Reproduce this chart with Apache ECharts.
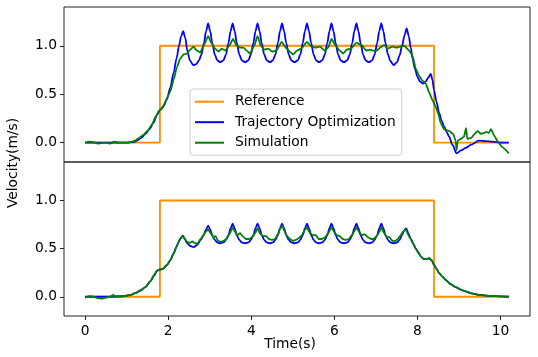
<!DOCTYPE html>
<html>
<head>
<meta charset="utf-8">
<script src="https://cdn.jsdelivr.net/npm/echarts@6/dist/echarts.min.js"></script>
<style>
  html, body { margin: 0; padding: 0; background: #fff; }
  #main { width: 538px; height: 357px; }
</style>
</head>
<body>
<div id="main"></div>
<script>
// 数据 (time s, velocity m/s)
var xTicks = [0, 2, 4, 6, 8, 10];
var yTicks = [0, 0.5, 1.0];
var names = ['Reference', 'Trajectory Optimization', 'Simulation'];

var refLine = [[0, 0], [1.8, 0], [1.8, 1], [8.4, 1], [8.4, 0], [10.2, 0]];

var trajTop = [[0,0],[0.5,0],[1.0,0],[1.15,0.005],[1.25,0.02],[1.35,0.05],[1.45,0.09],[1.55,0.14],[1.65,0.21],[1.73,0.29],[1.81,0.34],[1.89,0.38],[1.97,0.45],[2.05,0.57],[2.13,0.72],[2.2,0.87],[2.26,1.0],[2.31,1.1],[2.36,1.15],[2.41,1.08],[2.46,0.95],[2.52,0.85],[2.6,0.80],[2.68,0.81],[2.74,0.85],[2.8,0.91],[2.86,1.03],[2.91,1.15],[2.96,1.23],[3.01,1.15],[3.06,1.03],[3.12,0.91],[3.18,0.85],[3.25,0.83],[3.33,0.85],[3.39,0.91],[3.45,1.03],[3.5,1.15],[3.55,1.23],[3.6,1.15],[3.65,1.03],[3.71,0.91],[3.77,0.85],[3.85,0.83],[3.93,0.85],[3.99,0.91],[4.05,1.03],[4.1,1.15],[4.15,1.23],[4.2,1.15],[4.25,1.03],[4.31,0.91],[4.37,0.85],[4.45,0.83],[4.52,0.85],[4.58,0.91],[4.64,1.03],[4.69,1.15],[4.74,1.23],[4.79,1.15],[4.84,1.03],[4.9,0.91],[4.96,0.85],[5.04,0.83],[5.12,0.85],[5.18,0.91],[5.24,1.03],[5.29,1.15],[5.34,1.23],[5.39,1.15],[5.44,1.03],[5.5,0.91],[5.56,0.85],[5.63,0.83],[5.71,0.85],[5.77,0.91],[5.83,1.03],[5.88,1.15],[5.93,1.23],[5.98,1.15],[6.03,1.03],[6.09,0.91],[6.15,0.85],[6.23,0.83],[6.31,0.85],[6.37,0.91],[6.43,1.03],[6.48,1.15],[6.53,1.23],[6.58,1.15],[6.63,1.03],[6.69,0.91],[6.75,0.85],[6.83,0.83],[6.91,0.85],[6.97,0.91],[7.03,1.03],[7.08,1.15],[7.13,1.23],[7.18,1.15],[7.23,1.03],[7.29,0.91],[7.35,0.84],[7.43,0.80],[7.51,0.83],[7.57,0.9],[7.63,1.0],[7.69,1.11],[7.74,1.18],[7.79,1.1],[7.84,0.98],[7.88,0.87],[7.94,0.76],[8.0,0.68],[8.06,0.63],[8.14,0.61],[8.2,0.63],[8.26,0.67],[8.32,0.71],[8.36,0.65],[8.4,0.54],[8.46,0.42],[8.52,0.31],[8.58,0.23],[8.64,0.17],[8.7,0.11],[8.76,0.065],[8.84,-0.02],[8.94,-0.11],[9.05,-0.08],[9.16,-0.055],[9.3,-0.02],[9.48,0.02],[9.65,0.015],[9.8,0.01],[10.0,0.0],[10.2,0.0]];

var simTop = [[0,0],[0.1,0.01],[0.2,0.005],[0.3,-0.01],[0.4,-0.005],[0.5,0],[0.6,-0.01],[0.7,0.01],[0.8,0],[0.9,0],[1.0,0],[1.1,0.005],[1.2,0.02],[1.3,0.05],[1.4,0.08],[1.5,0.12],[1.6,0.18],[1.7,0.27],[1.78,0.33],[1.85,0.35],[1.93,0.42],[1.99,0.48],[2.05,0.53],[2.13,0.65],[2.21,0.78],[2.29,0.87],[2.37,0.91],[2.45,0.92],[2.53,0.96],[2.61,0.99],[2.69,0.95],[2.77,0.93],[2.85,1.0],[2.96,1.10],[3.05,1.02],[3.13,0.97],[3.21,0.94],[3.29,0.97],[3.37,0.95],[3.47,1.0],[3.56,1.07],[3.65,1.0],[3.73,0.98],[3.81,0.98],[3.89,0.95],[3.97,0.92],[4.07,1.0],[4.15,1.10],[4.23,1.0],[4.31,0.96],[4.41,0.97],[4.5,0.94],[4.6,0.95],[4.73,1.04],[4.85,0.97],[4.95,0.93],[5.01,0.91],[5.1,0.95],[5.2,0.97],[5.34,1.04],[5.45,0.99],[5.55,0.98],[5.65,0.99],[5.77,0.95],[5.85,0.98],[5.93,1.07],[6.05,0.99],[6.13,0.95],[6.21,0.92],[6.3,0.96],[6.4,0.97],[6.53,1.03],[6.65,1.01],[6.77,0.95],[6.85,0.96],[6.93,0.95],[7.02,0.95],[7.1,0.98],[7.2,1.01],[7.28,0.97],[7.4,0.99],[7.5,0.98],[7.58,0.99],[7.68,1.0],[7.8,0.95],[7.88,0.9],[7.96,0.76],[8.04,0.69],[8.12,0.64],[8.2,0.61],[8.28,0.52],[8.36,0.44],[8.44,0.37],[8.5,0.3],[8.56,0.2],[8.64,0.14],[8.76,0.12],[8.86,0.09],[8.92,0.02],[8.94,-0.08],[8.97,0.02],[9.05,0.04],[9.12,0.06],[9.17,0.15],[9.2,0.04],[9.3,0.05],[9.38,0.09],[9.45,0.12],[9.52,0.09],[9.6,0.1],[9.66,0.11],[9.72,0.1],[9.77,0.14],[9.85,0.07],[9.95,0.0],[10.05,-0.05],[10.2,-0.11]];

var trajBottom = [[0,0],[0.5,0],[0.9,0.005],[1.1,0.02],[1.22,0.04],[1.33,0.065],[1.45,0.1],[1.57,0.16],[1.66,0.22],[1.73,0.27],[1.8,0.285],[1.87,0.29],[1.97,0.33],[2.05,0.38],[2.13,0.45],[2.2,0.52],[2.25,0.57],[2.3,0.61],[2.35,0.635],[2.4,0.6],[2.45,0.56],[2.52,0.53],[2.61,0.515],[2.7,0.54],[2.78,0.59],[2.85,0.64],[2.91,0.7],[2.96,0.74],[3.01,0.7],[3.06,0.64],[3.12,0.59],[3.18,0.565],[3.25,0.556],[3.33,0.565],[3.39,0.59],[3.45,0.64],[3.5,0.71],[3.55,0.76],[3.6,0.71],[3.65,0.64],[3.71,0.59],[3.77,0.565],[3.85,0.556],[3.93,0.565],[3.99,0.59],[4.05,0.64],[4.1,0.71],[4.15,0.76],[4.2,0.71],[4.25,0.64],[4.31,0.59],[4.37,0.565],[4.45,0.556],[4.52,0.565],[4.58,0.59],[4.64,0.64],[4.69,0.71],[4.74,0.76],[4.79,0.71],[4.84,0.64],[4.9,0.59],[4.96,0.565],[5.04,0.556],[5.12,0.565],[5.18,0.59],[5.24,0.64],[5.29,0.71],[5.34,0.76],[5.39,0.71],[5.44,0.64],[5.5,0.59],[5.56,0.565],[5.63,0.556],[5.71,0.565],[5.77,0.59],[5.83,0.64],[5.88,0.71],[5.93,0.76],[5.98,0.71],[6.03,0.64],[6.09,0.59],[6.15,0.565],[6.23,0.556],[6.31,0.565],[6.37,0.59],[6.43,0.64],[6.48,0.71],[6.53,0.76],[6.58,0.71],[6.63,0.64],[6.69,0.59],[6.75,0.565],[6.83,0.556],[6.91,0.565],[6.97,0.59],[7.03,0.64],[7.08,0.71],[7.13,0.76],[7.18,0.71],[7.23,0.64],[7.29,0.59],[7.35,0.565],[7.43,0.556],[7.51,0.565],[7.57,0.59],[7.63,0.64],[7.68,0.69],[7.73,0.71],[7.78,0.66],[7.84,0.6],[7.9,0.55],[7.96,0.5],[8.02,0.46],[8.08,0.42],[8.14,0.395],[8.2,0.39],[8.28,0.40],[8.34,0.38],[8.4,0.33],[8.46,0.29],[8.52,0.245],[8.6,0.21],[8.68,0.176],[8.8,0.13],[8.92,0.10],[9.04,0.075],[9.16,0.055],[9.3,0.035],[9.48,0.02],[9.65,0.012],[9.8,0.008],[10.0,0.003],[10.2,0]];

var simBottom = [[0,-0.01],[0.1,0.005],[0.2,0],[0.3,-0.015],[0.4,-0.02],[0.5,-0.01],[0.6,0],[0.68,0.02],[0.72,0.0],[0.9,0.005],[1.1,0.02],[1.22,0.04],[1.33,0.065],[1.45,0.1],[1.57,0.16],[1.66,0.23],[1.73,0.27],[1.8,0.28],[1.87,0.29],[1.97,0.33],[2.05,0.38],[2.13,0.45],[2.2,0.52],[2.25,0.57],[2.3,0.61],[2.35,0.63],[2.4,0.6],[2.45,0.57],[2.52,0.56],[2.58,0.575],[2.63,0.56],[2.7,0.55],[2.78,0.6],[2.85,0.64],[2.91,0.68],[2.96,0.70],[3.02,0.66],[3.08,0.62],[3.14,0.63],[3.2,0.58],[3.27,0.57],[3.33,0.58],[3.4,0.6],[3.47,0.65],[3.55,0.72],[3.6,0.68],[3.66,0.64],[3.73,0.66],[3.79,0.63],[3.87,0.6],[3.95,0.6],[4.02,0.62],[4.09,0.66],[4.15,0.71],[4.22,0.65],[4.29,0.63],[4.36,0.63],[4.42,0.6],[4.5,0.59],[4.57,0.6],[4.64,0.65],[4.69,0.7],[4.74,0.74],[4.8,0.68],[4.86,0.63],[4.93,0.6],[5.0,0.58],[5.07,0.59],[5.15,0.61],[5.22,0.64],[5.28,0.69],[5.34,0.72],[5.4,0.67],[5.47,0.64],[5.55,0.64],[5.62,0.6],[5.7,0.6],[5.78,0.62],[5.85,0.66],[5.93,0.72],[6.0,0.67],[6.06,0.64],[6.13,0.63],[6.2,0.6],[6.27,0.59],[6.35,0.6],[6.42,0.64],[6.48,0.68],[6.53,0.72],[6.6,0.67],[6.66,0.64],[6.73,0.65],[6.8,0.62],[6.88,0.6],[6.95,0.6],[7.02,0.63],[7.08,0.67],[7.13,0.72],[7.2,0.66],[7.26,0.62],[7.32,0.62],[7.4,0.58],[7.47,0.58],[7.53,0.6],[7.6,0.64],[7.66,0.68],[7.72,0.70],[7.78,0.64],[7.84,0.6],[7.9,0.55],[7.96,0.5],[8.02,0.46],[8.08,0.42],[8.14,0.395],[8.2,0.39],[8.28,0.40],[8.34,0.38],[8.4,0.33],[8.46,0.29],[8.52,0.245],[8.6,0.21],[8.68,0.176],[8.8,0.13],[8.92,0.10],[9.04,0.075],[9.16,0.055],[9.3,0.035],[9.48,0.02],[9.65,0.012],[9.8,0.008],[10.0,0.003],[10.2,0]];

(function(){
    var myChart = echarts.init(document.getElementById('main'))
    var font = 'DejaVu Sans'
    var fs = 13.8
    var colors = ['#ff8c00', '#0000ff', '#008000']

    function xAx(idx, showLabel) {
        return {
            type: 'value', gridIndex: idx, min: -0.51, max: 10.71,
            axisLine: { show: false, onZero: false },
            splitLine: { show: false },
            axisTick: { show: showLabel, length: 4, lineStyle: { color: '#222' }, customValues: xTicks },
            axisLabel: { show: showLabel, customValues: xTicks, color: '#000', fontSize: fs, fontFamily: font, margin: 8 }
        }
    }
    function yAx(idx) {
        return {
            type: 'value', gridIndex: idx, min: -0.2, max: 1.4,
            axisLine: { show: false, onZero: false },
            splitLine: { show: false },
            axisTick: { show: true, length: 4, lineStyle: { color: '#222' }, customValues: yTicks },
            axisLabel: {
                customValues: yTicks, color: '#000', fontSize: fs, fontFamily: font, margin: 7,
                formatter: function (v) { return v.toFixed(1) }
            }
        }
    }
    function line(name, data, idx, c, smooth) {
        return {
            name: name, type: 'line', data: data, xAxisIndex: idx, yAxisIndex: idx,
            symbol: 'none', smooth: smooth, smoothMonotone: 'x', animation: false,
            lineStyle: { color: c, width: 1.8 }, itemStyle: { color: c }
        }
    }

    var option = {
        backgroundColor: '#fff',
        grid: [
            { left: 64, top: 7, width: 466, height: 155, show: true, borderColor: '#222', borderWidth: 1 },
            { left: 64, top: 162, width: 466, height: 154, show: true, borderColor: '#222', borderWidth: 1 }
        ],
        xAxis: [xAx(0, false), xAx(1, true)],
        yAxis: [yAx(0), yAx(1)],
        legend: {
            data: names, orient: 'vertical', left: 190, top: 89,
            icon: 'rect', itemWidth: 29, itemHeight: 2, itemGap: 4.5,
            padding: [4.7, 6, 4.5, 5],
            backgroundColor: 'rgba(255,255,255,0.8)', borderColor: '#ccc', borderWidth: 1, borderRadius: 3,
            textStyle: { fontFamily: font, fontSize: fs, lineHeight: 16, color: '#000', padding: [0, 0, 0, 6] }
        },
        graphic: [
            { type: 'text', x: 290, y: 344, style: { text: 'Time(s)', font: fs + 'px "DejaVu Sans"', fill: '#000', align: 'center', verticalAlign: 'middle' } },
            { type: 'text', x: 13, y: 163, rotation: Math.PI / 2, style: { text: 'Velocity(m/s)', font: fs + 'px "DejaVu Sans"', fill: '#000', align: 'center', verticalAlign: 'middle' } }
        ],
        series: [
            line(names[0], refLine, 0, colors[0], false),
            line(names[1], trajTop, 0, colors[1], 0.3),
            line(names[2], simTop, 0, colors[2], 0.15),
            line(names[0], refLine, 1, colors[0], false),
            line(names[1], trajBottom, 1, colors[1], 0.3),
            line(names[2], simBottom, 1, colors[2], 0.15)
        ]
    };
    myChart.setOption(option)
})();
</script>
</body>
</html>
